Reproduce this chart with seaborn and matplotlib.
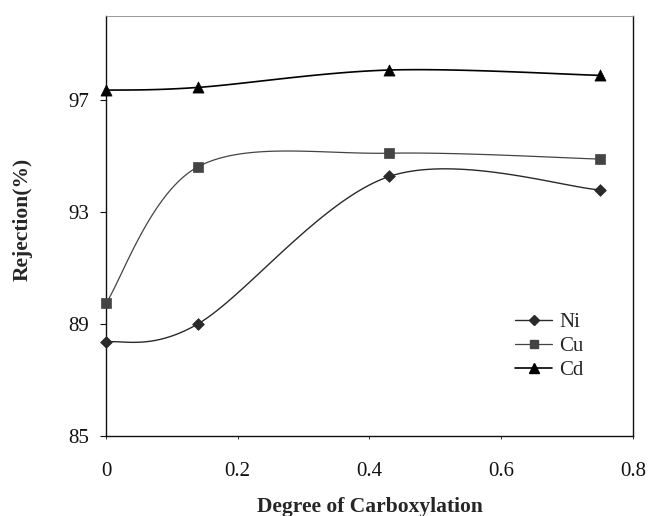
import numpy as np
import pandas as pd
import seaborn as sns
import matplotlib
matplotlib.use("Agg")
import matplotlib.pyplot as plt

# Rejection of metal ions versus degree of carboxylation
carboxylation = [0.0, 0.14, 0.43, 0.75]
ni_rejection = [88.35, 89.01, 94.27, 93.79]
cu_rejection = [89.74, 94.62, 95.10, 94.89]
cd_rejection = [97.35, 97.45, 98.07, 97.88]
metals = ["Ni", "Cu", "Cd"]

x_ticks = [0, 0.2, 0.4, 0.6, 0.8]
x_tick_labels = ["0", "0.2", "0.4", "0.6", "0.8"]
y_ticks = [85, 89, 93, 97]

df = pd.DataFrame({
    "x": carboxylation * 3,
    "y": ni_rejection + cu_rejection + cd_rejection,
    "metal": [m for m in metals for _ in carboxylation],
})


def smooth_curve(xs, ys, n=40):
    """Cardinal (Catmull-Rom) Bezier smoothing through the given points."""
    xs = np.asarray(xs, float)
    ys = np.asarray(ys, float)
    px = np.concatenate([[xs[0]], xs, [xs[-1]]])
    py = np.concatenate([[ys[0]], ys, [ys[-1]]])
    out_x, out_y = [], []
    t = np.linspace(0, 1, n)
    for i in range(1, len(px) - 2):
        p0 = np.array([px[i], py[i]])
        p3 = np.array([px[i + 1], py[i + 1]])
        c1 = p0 + (np.array([px[i + 1], py[i + 1]]) - np.array([px[i - 1], py[i - 1]])) / 6
        c2 = p3 - (np.array([px[i + 2], py[i + 2]]) - np.array([px[i], py[i]])) / 6
        b = ((1 - t) ** 3)[:, None] * p0 + (3 * (1 - t) ** 2 * t)[:, None] * c1 \
            + (3 * (1 - t) * t ** 2)[:, None] * c2 + (t ** 3)[:, None] * p3
        out_x.extend(b[:, 0])
        out_y.extend(b[:, 1])
    return np.array(out_x), np.array(out_y)


sns.set_theme(style="white")
plt.rcParams["font.family"] = ["Liberation Serif", "DejaVu Serif"]

fig = plt.figure(figsize=(6.49, 5.16), dpi=100)
ax = fig.add_axes([0.1633, 0.155, 0.812, 0.814])

styles = {
    "Ni": dict(color="#2a2a2a", marker="D", ms=6, lw=1.0),
    "Cu": dict(color="#444444", marker="s", ms=7, lw=0.9),
    "Cd": dict(color="#000000", marker="^", ms=8, lw=1.2),
}

for metal in metals:
    sub = df[df["metal"] == metal]
    st = styles[metal]
    sx, sy = smooth_curve(sub["x"], sub["y"])
    sns.lineplot(x=sx, y=sy, ax=ax, color=st["color"], lw=st["lw"],
                 sort=False, estimator=None)
    sns.scatterplot(x=sub["x"], y=sub["y"], ax=ax, color=st["color"],
                    marker=st["marker"], s=st["ms"] ** 2, edgecolor=st["color"],
                    linewidth=0.5, zorder=5, clip_on=False)

handles = [
    plt.Line2D([], [], color=styles[m]["color"], lw=styles[m]["lw"],
               marker=styles[m]["marker"], ms=styles[m]["ms"] * 0.85)
    for m in metals
]
ax.legend(handles, metals, loc="upper left", bbox_to_anchor=(0.757, 0.318),
          frameon=False, fontsize=15, handlelength=1.75, handletextpad=0.35,
          labelspacing=0.2, borderpad=0)

ax.set_xlim(0, 0.8)
ax.set_ylim(85, 100)
ax.set_xticks(x_ticks)
ax.set_xticklabels(x_tick_labels)
ax.set_yticks(y_ticks)

for side in ["left", "bottom", "top", "right"]:
    ax.spines[side].set_visible(True)
    ax.spines[side].set_color("#111111")
    ax.spines[side].set_linewidth(1.0)
ax.spines["top"].set_color("#888888")
ax.spines["top"].set_linewidth(0.6)

ax.tick_params(axis="y", direction="out", length=4, width=0.8, pad=8,
               labelsize=15, left=True, colors="#111111")
ax.tick_params(axis="x", direction="out", length=2, width=0.6, pad=17,
               labelsize=15, bottom=True, colors="#111111")

ax.set_xlabel("Degree of Carboxylation", fontsize=15.5, fontweight="bold", labelpad=11)
ax.set_ylabel("Rejection(%)", fontsize=15.5, fontweight="bold")
ax.yaxis.set_label_coords(-0.14, 0.515)

fig.savefig("out.png", dpi=100)
